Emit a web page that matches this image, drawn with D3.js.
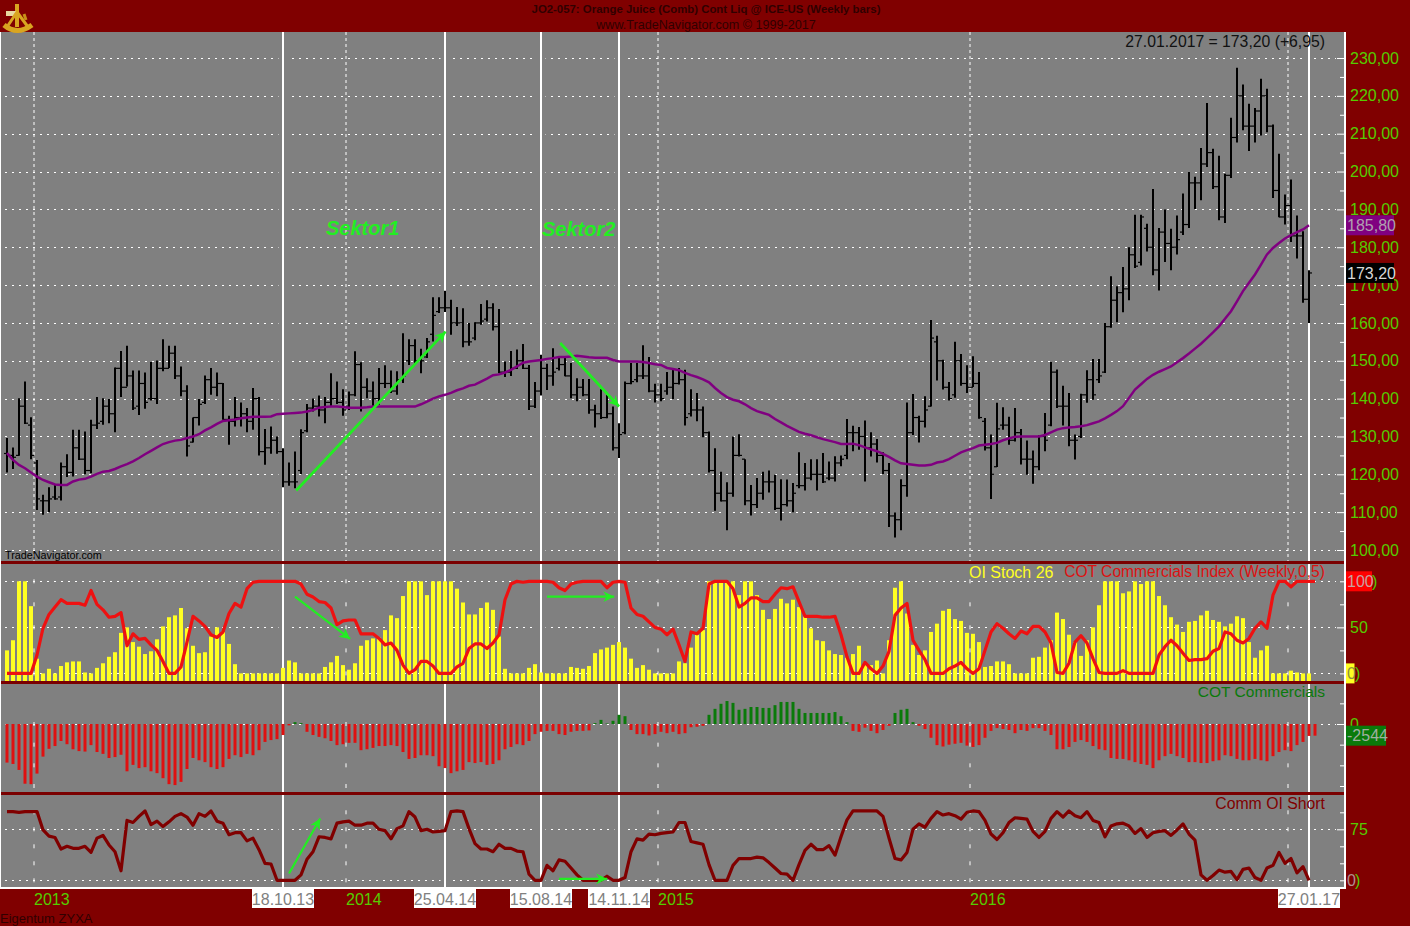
<!DOCTYPE html>
<html>
<head>
<meta charset="utf-8">
<style>
    html, body { margin: 0; padding: 0; background: #800000; overflow: hidden; }
    svg { display: block; }
    text { font-family: "Liberation Sans", Arial, sans-serif; }
    .domain { display: none; }
</style>
</head>
<body>
<svg id="chart" width="1410" height="926"></svg>
<script src="https://d3js.org/d3.v7.min.js"></script>
<script>
// weekly Orange Juice bars, one entry per week
const highs = [129.6,127.1,140.1,144.5,135.1,123.8,114.6,116.6,117.2,123.1,
125.3,131.8,131.8,131.3,134.4,140.4,140.1,139.9,148.2,152.6,
154,147.4,147.4,146.9,149.7,150.1,155.7,154,154,148.5,
143.5,135,139.9,146.1,148.1,146.9,144.1,135.5,140.4,139,
137.5,142.8,140.4,132,132.6,130,126.9,123.1,126,131.9,
138.6,140,140.8,140.4,146.7,144.5,142.5,141.9,152.5,149.6,
145.4,144.5,148.1,148.8,147.4,147.2,157.3,155.7,155.7,153.2,
156,166.8,166.8,168.5,166.1,164.2,163.9,160,160.2,165,
166,165.2,163.7,149.8,152.6,153,154.4,148.9,144.4,151.6,
149.2,153.3,150.7,151,149.4,145.4,145.2,145.2,138.4,142.5,
141,137.9,133.5,144.5,149.4,149.4,154.1,151,143.9,143.9,
147,147.6,148.1,147.6,142.5,141.5,137.9,131.3,126.9,120.7,
117.9,130,130.6,124,117.2,119,120.7,121,119.9,118.7,
118.6,117.7,125.8,123,124,124,125.6,123.4,124.8,125,
134.6,132.8,132.5,134.2,131.1,129.3,125.8,123,110,118.7,
139,141.2,135.5,140.6,160.8,156.6,150.3,144.4,155,151.8,
148.8,151.2,147,134.9,130.5,138.9,137.7,135.2,137.5,132,
128.9,126.3,130.3,136.2,149.7,147.7,143.4,141.5,130.5,141.3,
147.5,150.5,150.5,160,172.3,169.7,174.8,180,188.6,188.6,
186.2,195.4,185.1,190,184.9,188.4,194.2,199.9,198.6,206.2,
218.1,206,204.2,199.4,214.2,227.4,223,217.9,216.8,224.5,
221.9,212.4,204.7,193.9,197.9,188.4,184.2,173.9];
const lows = [120.5,121.4,124.9,133.3,124,110.6,109.3,110,113.3,113.1,
119.3,119.4,123.8,120,120.3,132,133.1,133.5,131.1,140.4,
143.2,137,135.7,137.3,139.5,138.6,147.2,148.1,145.2,140.6,
124.7,128.4,132.9,138.6,141,140.6,134.4,127.8,132.6,132.6,
131.1,131.8,125,122.5,125.4,125.4,116.6,117,116.3,120.1,
131.1,136.6,135.3,133.5,137.9,138.6,135.5,137,140.6,136.6,
140.1,137.5,138.4,142.8,141.5,141,144.1,148.9,149.4,146.7,
150.7,155.1,162.6,162.9,156.9,159.2,153.6,154,155.4,159.5,
160.4,158,146.7,145.7,146,147.8,147.8,137,137.5,140.8,
142.3,143.4,147.4,145.9,140.1,139.3,140.6,136,132.4,134.6,
134.8,126.3,124.3,130.6,143.8,144.3,145.2,141.7,139,139.3,
141,139.9,143.7,132.9,135.3,134,129.8,120.5,110.4,112.8,
105.2,114.1,124.7,111.8,109.1,111.1,113.3,115.2,110.6,107.8,
111.5,110,116.3,115.7,118.4,115.7,117.7,118.4,118.1,122.1,
124,126.1,126.5,118.1,124.7,123.1,120.1,106.1,103.3,105.2,
114.1,130.4,128.4,132.4,137.9,144.8,142.4,139.5,140.2,143.4,
141.5,143.1,134.7,126.3,113.5,121.9,131.8,127.8,128.7,122.6,
119.9,117.5,121.1,126.1,132.7,137.5,132.9,127.4,123.9,129.6,
138.9,139.7,144.1,146.8,158.7,160.2,162.8,166,174.5,175.2,
178.9,172.6,168.6,176.1,173.9,178.1,183.2,185.1,190.1,192.4,
201.2,195.4,187.1,186.4,198.3,207.7,210.9,205.4,207.7,209.5,
210.4,193,187.9,186,181.4,177,165.3,160];
const closes = [125,124.5,138,133.5,125,113.5,113,113.5,113.5,122,
120.5,127,124,121,133,133.5,138,136,148,143,
146,137.5,144,139,140,148,148,152,146,142,
127.5,135,138.5,145,143,144,134.5,134,135,136,
134,140,126,127,129,126,118,118,118,131,
137.5,138,137,139,140,139,137,141,149,143,
142,140,144,144,142,145,146,154,150,150,
155,162,164,164,160,160,155,155,160,160.5,
164,159,147,147,148,150,148,138,142,148,
146,147,149,146,141,143,141,137,136,135,
136,127,130.5,144,144.5,146,146,142,141,140,
143,144,145,135,137,137,131,121,115,113,
115,125,125,113,112,115,118,118,111,112,
113,115,117,119,120,120,118,119,123,124,
131,131,130,127,128,125,121,109,108,117,
131,135,134,137,156,150,143,140,150,144,
143,144,135,127,120,132,133,129,131,124,
124,122,130,129,147,138,138,129,129,141,
145,141,146,159,166,168,169,178,175,188,
180,174,184,181,180,182,186,197,197,202,
205,196,188,199,209,220,212,212,216,220,
212,195,188,191,183,183,166.25,173.2];
const opens = [125.5,125,125,138,133,123,113,113,114,114,
122,120.5,127,124,121,133,134,138,136,148,
143,146,138,144,140,140,148,148,152,146,
142,128.5,135,139,145,143,144,134.5,134,135,
136,134,140,126,127,129,126,118,118,121,
131.5,137.5,138,137,139,140,139,138,141,149,
143,142,140,144,144,142,145,150,154,150,
151,157,163,164,164,160,160,155,156,160,
161,164,159,147,147,148,150,148,138,142,
148,146,148,149,146,141,143,141,137,136,
135,136,127,131,144,145,146,146,142,141,
142,143,144,145,136,137,137,131,121,115,
113,115,125,124,113,112,115,118,118,111,
112,113,117,117,119,120,120,119,119,123,
125,131,131,130,127,128,125,121,109,108,
117,131,135,134,138,155,150,143,141,150,
144,143,144,134,127,122,133,133,129,131,
124,124,122,130,133,147,138,138,129,130,
141,145,145,147,159,166,168,169,178,176,
185,180,174,184,181,180,184,186,197,197,
202,205,196,188,199,209,220,212,212,216,
220,212,195,188,191,183,183,166.25];
const movingAvg = [125.6,123.8,122.5,121.6,120.5,119.4,118.5,117.9,117.3,117.2,
117.2,118.1,118.6,118.8,119.4,120.1,120.7,120.9,121.4,122.1,
122.7,123.4,124.3,125.3,126.2,127.1,128,128.5,128.9,129.1,
129.6,130,130.6,131.6,132.4,133.3,134.1,134.3,134.5,134.8,
135,135.2,135.2,135.2,135.3,135.9,136,136.1,136.2,136.3,
136.6,137,137.6,137.8,137.9,137.9,137.8,137.6,137.6,137.6,
137.7,137.9,137.9,137.9,137.9,137.9,137.9,137.9,137.9,138.5,
139.2,140,140.6,141,141.5,142.2,142.7,143.4,143.7,144.5,
145.3,146.2,146.4,146.9,147.6,148.5,149.5,149.8,150,150.2,
150.5,150.7,151,151,151.1,151.3,151.1,150.9,150.8,150.8,
150.8,150.2,149.8,149.8,149.8,149.8,149.7,149.4,149.1,148.9,
148.1,147.8,147.5,146.8,146.2,145.7,145.1,144.3,142.8,141.5,
140.4,139.7,139.3,138.5,137.5,136.7,136.2,135.7,134.6,133.7,
132.8,132,131.2,130.7,130.3,129.8,129.3,128.9,128.5,128,
128,128.1,127.7,127.1,126.6,126.1,125.4,124.6,123.7,122.9,
122.7,122.5,122.3,122.3,122.5,123.1,123.4,124,124.9,125.8,
126.4,126.9,127.6,127.8,128,128.3,129,129.5,129.9,130,
130,130,130,130.4,131.1,131.8,132.2,132.4,132.5,132.7,
133,133.5,134,134.8,135.7,136.7,138,140.2,142.4,143.8,
145.2,146.3,147.1,147.8,148.5,149.6,150.7,151.9,153.2,154.5,
156,157.5,159.1,161.1,163.1,165.7,168.4,170.6,172.8,175.4,
178.1,179.8,181.1,182.3,183.2,184,184.7,185.8];

const oiStoch = [25,36,100,100,73,16,0,5,0,8,
12,13,13,1,0,6,11,18,23,44,
50,34,29,21,24,37,51,61,63,71,
49,30,22,23,40,50,45,32,10,0,
0,0,0,0,0,0,6,14,12,0,
0,0,0,7,12,19,9,4,11,30,
36,38,39,47,63,60,84,100,100,100,
85,100,100,100,100,92,77,64,64,71,
77,69,40,5,0,0,0,6,10,1,
0,0,0,0,7,6,5,8,22,26,
28,31,34,28,16,6,9,4,0,0,
0,0,13,11,28,42,47,100,100,100,
100,100,85,100,100,85,69,59,70,81,
76,80,72,62,49,36,35,25,21,20,
17,21,30,12,9,14,0,36,93,100,
65,31,20,25,45,54,68,70,59,57,
44,43,34,7,8,13,13,10,0,0,
0,17,18,28,36,66,59,42,34,19,
36,50,74,100,100,100,87,89,100,97,
100,100,84,74,61,53,45,56,57,63,
68,58,56,51,54,62,60,34,17,25,
30,0,0,0,3,1,0,0];
// COT index has one week more than the price bars
const cotIndex = [0,0,0,0,0,20,49,64,72,80,
76,76,76,74,90,75,69,61,62,66,
30,43,37,38,31,25,13,0,0,7,
34,62,57,51,42,39,45,65,76,72,
92,99,100,100,100,100,100,100,100,97,
86,83,78,77,71,53,57,58,58,43,
43,43,38,31,33,25,9,0,4,13,
13,8,0,0,0,7,11,27,32,32,
27,33,42,80,97,100,99,100,100,100,
100,99,93,90,97,99,100,100,100,100,
93,99,100,99,71,64,62,56,50,48,
42,48,31,13,45,43,49,97,100,100,
100,92,72,76,82,82,78,78,86,93,
92,94,78,62,62,62,61,61,62,42,
18,0,0,12,5,0,8,24,63,71,
76,36,25,15,0,0,0,5,8,12,
5,0,5,25,45,54,49,43,38,46,
43,51,51,45,33,1,0,11,34,41,
33,16,1,0,0,0,3,0,0,0,
0,0,20,29,36,30,22,14,15,15,
16,24,27,45,43,36,33,38,49,56,
49,85,100,100,94,100,100,100,100];
const cotCommercials = [-8400,-8700,-10000,-13000,-13100,-10800,-7100,-5400,-4800,-3700,
-4400,-5500,-5900,-6000,-4600,-6100,-6500,-7400,-7200,-6700,
-10300,-8900,-9600,-9400,-10300,-10700,-11800,-13100,-13300,-12600,
-9800,-7400,-7900,-8300,-9400,-9800,-9400,-7600,-6800,-7200,
-6500,-6800,-5700,-3900,-3500,-3300,-2400,-300,400,200,
-1700,-2400,-2800,-3100,-3700,-4600,-4400,-4100,-4100,-5700,
-5500,-5200,-4800,-4800,-4600,-4800,-6100,-7600,-7400,-6800,
-6800,-7000,-9200,-9600,-10700,-10300,-10000,-8300,-8500,-8300,
-8900,-8700,-7900,-5500,-5000,-4400,-4600,-3700,-2200,-1700,
-1500,-1500,-2200,-2400,-1700,-1500,-1500,-1400,200,900,
100,700,2000,1700,-1300,-2200,-2200,-2500,-2200,-1700,
-2000,-1700,-2200,-2000,-700,-600,-400,2000,3300,4400,
5000,4600,3100,3300,3700,3700,3500,3500,4100,4800,
4800,4800,3300,2400,2400,2400,2400,2400,2600,1700,
400,-1500,-1700,-800,-1500,-2000,-1300,-400,2400,3100,
3300,400,-400,-1100,-3000,-4600,-4900,-4500,-4300,-4100,
-4700,-5000,-4600,-3000,-1500,-900,-1100,-1300,-2000,-1300,
-1500,-900,-900,-1500,-2400,-5500,-5500,-5000,-3900,-3500,
-3900,-4800,-5500,-5700,-7400,-7600,-7600,-7900,-8300,-8700,
-8900,-9600,-7900,-7000,-6500,-7000,-7400,-8300,-8300,-8500,
-8500,-8100,-7900,-6800,-7000,-7600,-7900,-7900,-7600,-7900,
-8100,-7000,-6100,-5700,-5900,-4600,-3900,-2600,-2544];
const commOiShort = [101,101,100,101,101,101,74,65,63,46,
50,47,47,50,41,62,66,52,42,14,
88,85,94,102,82,87,79,86,94,98,
93,81,98,94,102,87,84,67,70,70,
58,62,45,25,24,0,0,0,0,8,
31,42,64,63,61,84,86,87,81,81,
84,84,75,73,61,76,80,101,93,73,
75,71,72,73,101,102,101,76,54,46,
46,42,53,47,47,43,42,9,0,0,
22,14,30,28,18,8,0,0,0,0,
6,0,0,4,42,61,59,68,67,69,
70,71,85,85,57,55,53,23,0,0,
0,22,32,32,32,34,33,26,18,10,
9,0,23,44,53,45,45,51,37,64,
89,102,102,102,102,102,94,62,32,30,
41,75,83,78,91,101,96,98,95,90,
100,102,101,88,68,60,70,85,92,91,
90,72,63,72,91,101,93,102,95,92,
101,88,85,64,80,83,84,80,69,76,
63,70,72,73,66,74,83,68,59,8,
0,7,15,12,13,1,16,18,4,0,
18,22,41,25,32,11,20,0];

const priceTicks = [100,110,120,130,140,150,160,170,180,190,200,210,220,230];
const priceMinorTicks = [105,115,125,135,145,155,165,175,185,195,205,215,225];
const stochTicks = [0,25,50,75,100];
const commTicks = [0,-4500,-9000,-13500];
const shortTicks = [0,25,50,75,100];
const yearLabels = ["2013","2014","2015","2016"];
const yearWeeks = [4.5,56.5,108.5,160.5,213.5];
const markedWeeks = [46,73,89,102,217];
const markedDates = ["18.10.13","25.04.14","15.08.14","14.11.14","27.01.17"];
// arrows: [week, value] start and end, per panel
const priceArrows = [[48.2,115.7,73.1,157.7],[92.2,154.7,102,137.9]];
const stochArrows = [[48,83.3,57.2,37.4],[90,83.3,101.2,83.3]];
const shortArrows = [[47,10,52.2,91],[92,2,100,2]];

const svg = d3.select("#chart");
const dark = "#800000", grey = "#808080", labelGreen = "#55cc00", arrowGreen = "#22ee22";

const x = d3.scaleLinear().domain([0, 217]).range([7, 1309]);
const yPrice = d3.scaleLinear().domain([100, 230]).range([550, 58]);
const yStoch = d3.scaleLinear().domain([0, 100]).range([673.4, 581.3]);
const yComm = d3.scaleLinear().domain([0, -15000]).range([724, 792.9]);
const yShort = d3.scaleLinear().domain([0, 75]).range([880.3, 829.3]);

const fmt = d => d3.format(".2f")(d).replace(".", ",");

svg.append("rect").attr("width", 1410).attr("height", 926).attr("fill", dark);
svg.append("rect").attr("x", 1).attr("y", 32).attr("width", 1343).attr("height", 855).attr("fill", grey);

function grid(scale, values) {
    svg.append("g").selectAll("line").data(values).join("line")
        .attr("x1", 5).attr("x2", 1336)
        .attr("y1", d => Math.round(scale(d)) + 0.5).attr("y2", d => Math.round(scale(d)) + 0.5)
        .attr("stroke", "white").attr("stroke-dasharray", "2 5");
}
grid(yPrice, priceTicks);
grid(yStoch, [0, 50, 100]);
grid(yComm, [0]);
grid(yShort, [0, 75]);

// grey gap in the dotted grid around the marked weeks, then the white lines
svg.append("g").selectAll("line").data(markedWeeks).join("line")
    .attr("x1", d => x(d)).attr("x2", d => x(d)).attr("y1", 32).attr("y2", 887)
    .attr("stroke", grey).attr("stroke-width", 9);

// year lines: dense dashes in the price panel, small marks at the ticks below
svg.append("g").selectAll("line").data(yearWeeks).join("line")
    .attr("x1", d => x(d)).attr("x2", d => x(d)).attr("y1", 32).attr("y2", 562)
    .attr("stroke", "white").attr("stroke-dasharray", "3 3");
[[yStoch, stochTicks], [yComm, commTicks], [yShort, shortTicks]].forEach(([scale, ticks]) => {
    ticks.forEach(t => {
        svg.append("g").selectAll("line").data(yearWeeks).join("line")
            .attr("x1", d => x(d)).attr("x2", d => x(d))
            .attr("y1", scale(t) - 2).attr("y2", scale(t) + 2)
            .attr("stroke", "white");
    });
});

svg.append("g").selectAll("line").data(markedWeeks).join("line")
    .attr("x1", d => x(d)).attr("x2", d => x(d)).attr("y1", 32).attr("y2", 887)
    .attr("stroke", "white").attr("stroke-width", 2);

// price bars
const bars = svg.append("g").attr("stroke", "black");
bars.selectAll(".hl").data(highs).join("line").attr("class", "hl")
    .attr("x1", (d, i) => x(i)).attr("x2", (d, i) => x(i))
    .attr("y1", d => yPrice(d)).attr("y2", (d, i) => yPrice(lows[i]))
    .attr("stroke-width", 2);
bars.selectAll(".op").data(opens).join("line").attr("class", "op")
    .attr("x1", (d, i) => x(i) - 3).attr("x2", (d, i) => x(i))
    .attr("y1", d => yPrice(d)).attr("y2", d => yPrice(d))
    .attr("stroke-width", 1.2);
bars.selectAll(".cl").data(closes).join("line").attr("class", "cl")
    .attr("x1", (d, i) => x(i)).attr("x2", (d, i) => x(i) + 3)
    .attr("y1", d => yPrice(d)).attr("y2", d => yPrice(d))
    .attr("stroke-width", 1.2);

const lineOf = scale => d3.line().x((d, i) => x(i)).y(d => scale(d));

svg.append("path").datum(movingAvg).attr("d", lineOf(yPrice))
    .attr("fill", "none").attr("stroke", "#800080").attr("stroke-width", 2.5);

// OI stoch columns stand on the panel floor
svg.append("g").selectAll("rect").data(oiStoch).join("rect")
    .attr("x", (d, i) => x(i) - 2).attr("width", 4)
    .attr("y", d => yStoch(d)).attr("height", d => 682 - yStoch(d))
    .attr("fill", "#ffff22");
svg.append("path").datum(cotIndex).attr("d", lineOf(yStoch))
    .attr("fill", "none").attr("stroke", "#ee1111").attr("stroke-width", 3.2).attr("stroke-linejoin", "round");

svg.append("g").selectAll("rect").data(cotCommercials).join("rect")
    .attr("x", (d, i) => x(i) - 1.5).attr("width", 3)
    .attr("y", d => Math.min(yComm(d), yComm(0)))
    .attr("height", d => Math.abs(yComm(d) - yComm(0)))
    .attr("fill", d => d > 0 ? "#0a7a0a" : "#e01010");

svg.append("path").datum(commOiShort).attr("d", lineOf(yShort))
    .attr("fill", "none").attr("stroke", dark).attr("stroke-width", 3.2).attr("stroke-linejoin", "round");

// green hand drawn arrows
svg.append("defs").append("marker").attr("id", "head")
    .attr("viewBox", "0 0 12 12").attr("refX", 11).attr("refY", 6)
    .attr("markerUnits", "userSpaceOnUse").attr("markerWidth", 13).attr("markerHeight", 13).attr("orient", "auto")
    .append("path").attr("d", "M1,1 L11,6 L1,11 L4,6 Z").attr("fill", arrowGreen);
function arrows(scale, list, width) {
    svg.append("g").selectAll("line").data(list).join("line")
        .attr("x1", d => x(d[0])).attr("y1", d => scale(d[1]))
        .attr("x2", d => x(d[2])).attr("y2", d => scale(d[3]))
        .attr("stroke", arrowGreen).attr("stroke-width", width)
        .attr("marker-end", "url(#head)");
}
arrows(yPrice, priceArrows, 2.8);
arrows(yStoch, stochArrows, 2.2);
arrows(yShort, shortArrows, 2.2);

// panel borders and frame
svg.append("g").selectAll("rect").data([561, 681, 792]).join("rect")
    .attr("x", 0).attr("y", d => d).attr("width", 1345).attr("height", 3).attr("fill", "#7a0000");
svg.append("rect").attr("x", 0).attr("y", 32).attr("width", 1).attr("height", 857).attr("fill", "white");
svg.append("rect").attr("x", 0).attr("y", 887).attr("width", 1345).attr("height", 2).attr("fill", "white");
svg.append("rect").attr("x", 1344).attr("y", 32).attr("width", 2).attr("height", 857).attr("fill", "white");

// right side axes
function rightAxis(scale, major, minor, format) {
    const g = svg.append("g").attr("transform", "translate(1344,0)");
    g.call(d3.axisRight(scale).tickValues(major).tickSize(-7).tickPadding(6).tickFormat(format));
    g.selectAll("line").attr("stroke", "white");
    g.selectAll("text").attr("fill", labelGreen).attr("font-size", 16)
        .attr("font-family", '"Liberation Sans", Arial, sans-serif');
    if (minor.length) {
        const m = svg.append("g").attr("transform", "translate(1344,0)");
        m.call(d3.axisRight(scale).tickValues(minor).tickSize(-4).tickFormat(""));
        m.selectAll("line").attr("stroke", "white");
    }
}
rightAxis(yPrice, priceTicks, priceMinorTicks, fmt);
rightAxis(yStoch, [50], [0, 25, 75, 100], d => String(d));
rightAxis(yComm, [0], [-4500, -9000, -13500, 4500], d => "0");
rightAxis(yShort, [75], [0, 25, 50, 100], d => String(d));

// value tags that sit over the axis labels
function tag(yc, w, fill, label, color) {
    svg.append("rect").attr("x", 1346).attr("y", yc - 10).attr("width", w).attr("height", 20).attr("fill", fill);
    svg.append("text").attr("x", 1347).attr("y", yc).attr("dy", "0.35em")
        .attr("font-size", 16).attr("fill", color).text(label);
}
function bracket(px, py) {
    svg.append("text").attr("x", px).attr("y", py).attr("dy", "0.35em")
        .attr("font-size", 16).attr("fill", labelGreen).text(")");
}
tag(yPrice(movingAvg[217]), 48, "#800080", fmt(movingAvg[217]), "#b0a0b0");
tag(yPrice(closes[217]), 48, "#000000", fmt(closes[217]), "#d8d8d8");
tag(yStoch(cotIndex[218]), 26, "#ff0000", String(cotIndex[218]), "#c8a0a0");
bracket(1372, yStoch(100));
tag(yStoch(oiStoch[217]), 8.5, "#ffff22", String(oiStoch[217]), "#909040");
bracket(1355, yStoch(0));
tag(yComm(cotCommercials[218]), 40, "#0a7a0a", String(cotCommercials[218]), "#a0b0a0");
tag(yShort(commOiShort[217]), 9, dark, String(commOiShort[217]), "#b09090");
bracket(1355, yShort(0));

// date labels under the panels
svg.append("g").selectAll("rect").data(markedWeeks).join("rect")
    .attr("x", d => x(d) - 31).attr("y", 889).attr("width", 62).attr("height", 19).attr("fill", "white");
svg.append("g").selectAll("text").data(markedDates).join("text")
    .attr("x", (d, i) => x(markedWeeks[i])).attr("y", 899).attr("dy", "0.35em")
    .attr("text-anchor", "middle").attr("font-size", 16).attr("fill", grey).text(d => d);
svg.append("g").selectAll("text").data(yearLabels).join("text")
    .attr("x", (d, i) => x(yearWeeks[i])).attr("y", 899).attr("dy", "0.35em")
    .attr("font-size", 16).attr("fill", labelGreen).text(d => d);

function label(px, py, txt, size, fill, anchor, extra) {
    const t = svg.append("text").attr("x", px).attr("y", py).attr("dy", "0.35em")
        .attr("font-size", size).attr("fill", fill).attr("text-anchor", anchor || "start").text(txt);
    if (extra) t.attr("font-weight", "bold").attr("font-style", extra);
    return t;
}
label(706, 9, "JO2-057:  Orange Juice (Comb) Cont Liq @ ICE-US  (Weekly bars)", 11.4, "#300000", "middle").attr("font-weight", "bold");
label(706, 25, "www.TradeNavigator.com © 1999-2017", 12.6, "#300000", "middle");
label(1325, 41, "27.01.2017 = 173,20 (+6,95)", 15.75, "#111111", "end");
label(326, 228, "Sektor1", 20, "#22ee22", "start", "italic");
label(542, 229, "Sektor2", 20, "#22ee22", "start", "italic");
label(5, 555, "TradeNavigator.com", 10.8, "black");
label(969, 572, "OI Stoch 26", 16, "#ffff22");
label(1325, 572, "COT Commercials Index (Weekly,0,5)", 15.6, "#dd1111", "end");
label(1325, 692, "COT Commercials", 15.5, "#0a7a0a", "end");
label(1325, 803, "Comm OI Short", 15.8, dark, "end");
label(0, 918, "Eigentum ZYXA", 13, "#300000");

// little golden sextant logo in the corner
const logo = svg.append("g").attr("fill", "none").attr("stroke", "#d9a520").attr("stroke-width", 3);
logo.append("line").attr("x1", 17).attr("y1", 4).attr("x2", 17).attr("y2", 27).attr("stroke-width", 4);
logo.append("rect").attr("x", 6).attr("y", 11).attr("width", 10).attr("height", 5)
    .attr("fill", "#e8d8a0").attr("stroke", "none");
logo.append("path").attr("d", "M4,25 Q17,36 32,25").attr("stroke-width", 5);
logo.append("path").attr("d", "M17,12 L7,27 M17,12 L28,27").attr("stroke-width", 3);
logo.append("line").attr("x1", 24).attr("y1", 14).attr("x2", 26).attr("y2", 20).attr("stroke", "#c89018");
</script>
</body>
</html>
